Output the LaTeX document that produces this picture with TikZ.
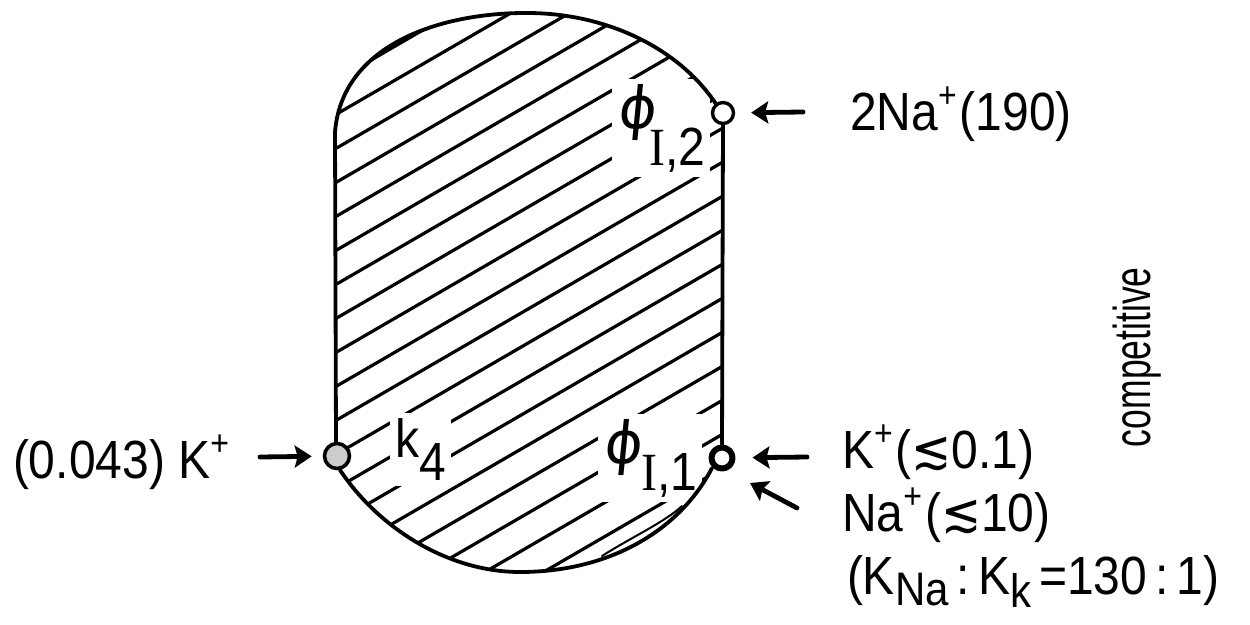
\documentclass[tikz,border=0pt]{standalone}
\usepackage{fontspec}
\setmainfont{Liberation Sans}
\newfontfamily\serifI{Liberation Serif}
\newfontfamily\dejavu{DejaVu Sans}
\newfontfamily\phifont[FakeSlant=0.1]{DejaVu Sans}
\usetikzlibrary{arrows.meta}
\newcommand\tallx[1]{\scalebox{1}[1.12]{#1}}
\newcommand\plusup{\raisebox{20pt}{\fontsize{32}{32}\selectfont +}\hspace{3pt}}
\newcommand\lsim{{\dejavu ≲}}
\newcommand\bigphi{{\fontsize{58}{64}\phifont ϕ}}
\begin{document}
\begin{tikzpicture}[x=1pt,y=-1pt,line cap=round,line join=round,
  outline/.style={line width=3.8pt},
  hatchline/.style={line width=3.2pt},
  txt/.style={font=\fontsize{48}{56}\selectfont,inner sep=0pt,outer sep=0pt},
  gap/.style={fill=white,inner sep=5pt,outer sep=0pt,font=\fontsize{48}{56}\selectfont},
  arr/.style={line width=4.8pt,-{Stealth[length=17pt,width=22pt,inset=3pt]}},
]
\useasboundingbox (0,0) rectangle (1250,624);
% hatching
\begin{scope}
\clip (335,132) .. controls (342,45) and (440,12) .. (530,13) .. controls (610,14) and (680,50) .. (716,104) -- (723,113) -- (722,458) -- (712,468) .. controls (680,530) and (610,572) .. (520,572) .. controls (450,572) and (380,530) .. (340,470) -- (337,456) -- cycle;
\foreach \k in {-7,...,16}{
  \draw[hatchline] (300,{183+34*\k+0.58*35}) -- (760,{183+34*\k-0.58*425});
}
\end{scope}
% labels inside (white gaps)
\node[gap,anchor=base west] (phi2) at (612,128) {\bigphi\hspace{-6pt}\raisebox{-37pt}{\tallx{{\serifI I},2}}};
\node[gap,anchor=base west] (phi1) at (598,463) {\bigphi\hspace{0pt}\raisebox{-27pt}{\tallx{{\serifI I},1}}};
\node[gap,anchor=base west] (k4) at (390,457) {\tallx{k\raisebox{-21pt}{4}}};
% outline
\draw[outline] (335,132) .. controls (342,45) and (440,12) .. (530,13) .. controls (610,14) and (680,50) .. (716,104);
\draw[outline] (335,132) -- (336,445);
\draw[outline] (723,120) -- (722,448);
\draw[outline] (340,470) .. controls (380,530) and (450,572) .. (520,572) .. controls (610,572) and (680,530) .. (712,468);
\draw[line width=2pt] (602,556) .. controls (630,538) and (665,522) .. (682,506);
% sites
\node[circle,draw,line width=3.4pt,fill=white,minimum size=21pt,inner sep=0pt] (c2) at (723,113) {};
\node[circle,draw,line width=6pt,fill=white,minimum size=21pt,inner sep=0pt] (c1) at (722,458) {};
\node[circle,draw,line width=3.6pt,fill=gray!40,minimum size=25pt,inner sep=0pt] (c4) at (337,456) {};
% outside texts
\node[txt,anchor=base west] (tna2) at (850,130) {\tallx{2Na\plusup(190)}};
\node[txt,anchor=base west] (tk) at (13,478) {\tallx{(0.043) K\plusup}};
\node[txt,anchor=base west] (tkp) at (842,468) {\tallx{K\plusup(\lsim0.1)}};
\node[txt,anchor=base west] (tnap) at (842,531) {\tallx{Na\plusup(\lsim10)}};
\node[txt,anchor=base west] (tratio) at (847,594) {\tallx{(K\raisebox{-10pt}{\fontsize{42}{42}\selectfont Na}\,:\,K\raisebox{-12pt}{\fontsize{42}{42}\selectfont k}\,=130\,:\,1)}};
\node[txt,anchor=base west,rotate=90] (tcomp) at (1150,447) {\scalebox{0.74}[1.08]{competitive}};
% arrows
\coordinate (a2s) at (803,112);
\coordinate (a4s) at (260,457);
\coordinate (a1s) at (807,457);
\coordinate (a3s) at (797,508);
\coordinate (a3e) at (750,483);
\draw[arr,shorten >=16pt] (a2s) -- (c2);
\draw[arr,shorten >=11pt] (a4s) -- (c4);
\draw[arr,shorten >=17pt] (a1s) -- (c1);
\draw[arr] (a3s) -- (a3e);
\end{tikzpicture}
\end{document}
